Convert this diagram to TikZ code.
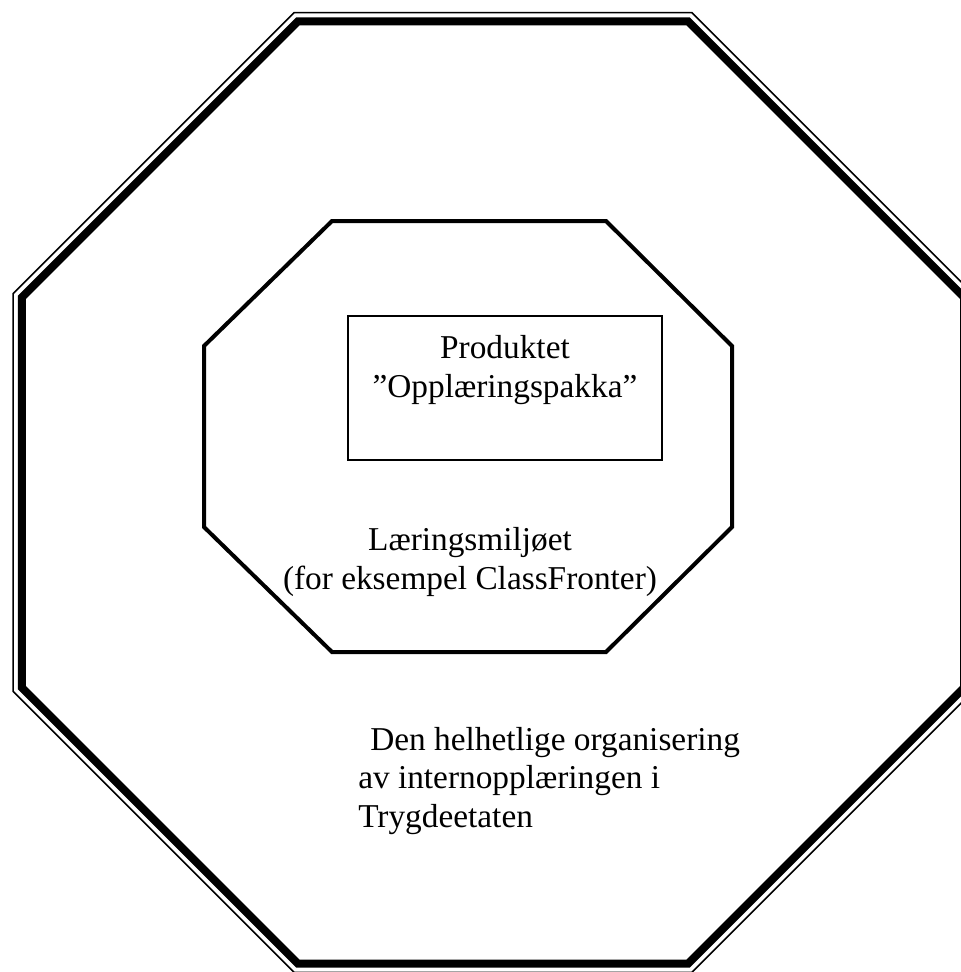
\documentclass[tikz,border=0pt]{standalone}
\usepackage{fontspec}
\setmainfont{Liberation Serif}
\begin{document}
\begin{tikzpicture}[
		x=0.75pt, y=-0.75pt,
		outerthin/.style={draw, line width=1.1pt},
		outerthick/.style={draw, line width=6pt},
		middleline/.style={draw, line width=3pt},
		boxline/.style={draw, line width=1.1pt},
		label/.style={font=\fontsize{25pt}{29pt}\selectfont, inner sep=0pt}
	]
	\useasboundingbox (0,0) rectangle (961,972);
	% outer octagon, thin and thick line
	\begin{scope}[shift={(493,492.5)}]
		\draw[outerthin] (22.5:519.5) \foreach \a in {67.5,112.5,...,337.5} { -- (\a:519.5) } -- cycle;
		\draw[outerthick] (22.5:510) \foreach \a in {67.5,112.5,...,337.5} { -- (\a:510) } -- cycle;
	\end{scope}
	% inner octagon
	\draw[middleline] (332,221) -- (606,221) -- (732,346) -- (732,527)
		-- (606,652) -- (332,652) -- (204,527) -- (204,346) -- cycle;
	% product box
	\draw[boxline] (348,316) rectangle (662,460);
	\node[label, align=center] (produkt) at (505,370) {Produktet\\ ”Opplæringspakka”};
	\node[label, align=center] (miljo) at (470,562) {Læringsmiljøet\\(for eksempel ClassFronter)};
	\node[label, align=left, anchor=west] (org) at (358,781)
		{\hspace*{9pt}Den helhetlige organisering\\av internopplæringen i\\Trygdeetaten};
\end{tikzpicture}
\end{document}
